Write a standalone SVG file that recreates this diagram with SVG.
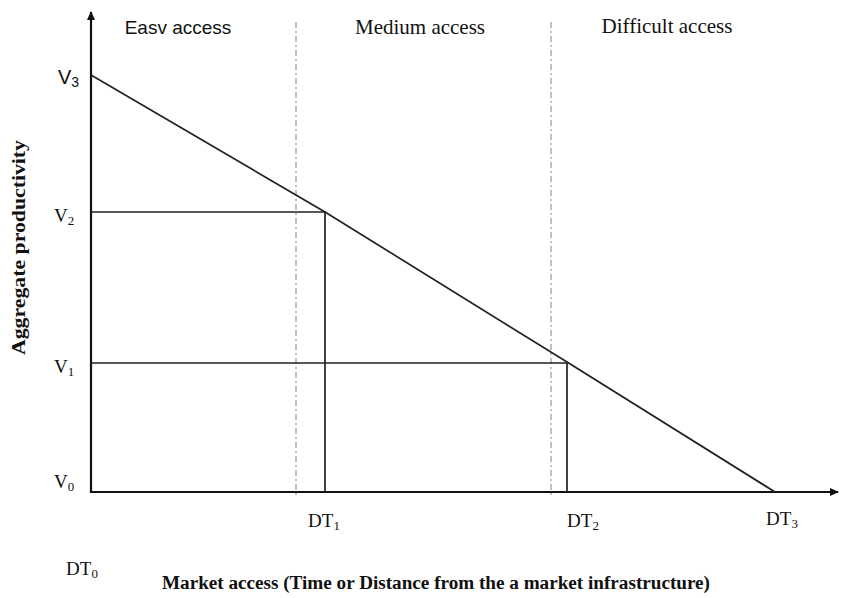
<svg xmlns="http://www.w3.org/2000/svg" width="842" height="598" viewBox="0 0 842 598">
<style>
.ax{stroke:#111;stroke-width:2.2;fill:none}
.ln{stroke:#222;stroke-width:1.7;fill:none}
.dash{stroke:#aaa;stroke-width:1.5;stroke-dasharray:6,3,2,3;fill:none}
.s{font-family:"Liberation Serif",serif;fill:#111}
.ss{font-family:"Liberation Sans",sans-serif;fill:#111}
</style>
<defs>
<marker id="ah" markerWidth="10" markerHeight="10" refX="8" refY="5" orient="auto" markerUnits="userSpaceOnUse">
<path d="M0,1 L9,5 L0,9 Z" fill="#111"/>
</marker>
</defs>
<rect width="842" height="598" fill="#fff"/>
<g id="connectors">
<line class="ax" x1="91" y1="493" x2="91" y2="12" marker-end="url(#ah)"/>
<line class="ax" x1="91" y1="492" x2="838" y2="492" marker-end="url(#ah)"/>
<line class="dash" x1="296" y1="22" x2="296" y2="496"/>
<line class="dash" x1="551" y1="22" x2="551" y2="496"/>
<polyline class="ln" points="91,75 325,212 567,362 775,492"/>
<polyline class="ln" points="91,212 325,212 325,492"/>
<polyline class="ln" points="91,363 567,363 567,492"/>
</g>
<g id="regions">
<text class="ss" x="178" y="34" font-size="19" text-anchor="middle">Easv access</text>
<text class="s" x="420" y="34" font-size="21" text-anchor="middle">Medium access</text>
<text class="s" x="667" y="33" font-size="21" text-anchor="middle">Difficult access</text>
</g>
<g id="v-labels">
<text class="ss" x="58" y="84" font-size="20">V<tspan font-size="14" dy="3">3</tspan></text>
<text class="s" x="54" y="222" font-size="19">V<tspan font-size="13" dy="3">2</tspan></text>
<text class="s" x="54" y="373" font-size="19">V<tspan font-size="13" dy="3">1</tspan></text>
<text class="s" x="54" y="488" font-size="19">V<tspan font-size="13" dy="3">0</tspan></text>
</g>
<g id="dt-labels">
<text class="s" x="324" y="527" font-size="19" text-anchor="middle">DT<tspan font-size="13" dy="3">1</tspan></text>
<text class="s" x="583" y="527" font-size="19" text-anchor="middle">DT<tspan font-size="13" dy="3">2</tspan></text>
<text class="s" x="782" y="525" font-size="19" text-anchor="middle">DT<tspan font-size="13" dy="3">3</tspan></text>
<text class="s" x="82" y="575" font-size="19" text-anchor="middle">DT<tspan font-size="13" dy="3">0</tspan></text>
</g>
<g id="axis-titles">
<text class="s" x="162" y="589" font-size="18" font-weight="bold" textLength="548" lengthAdjust="spacingAndGlyphs">Market access (Time or Distance from the a market infrastructure)</text>
<text class="s" x="0" y="0" font-size="18" font-weight="bold" textLength="215" lengthAdjust="spacingAndGlyphs" transform="translate(25,355) rotate(-90)">Aggregate productivity</text>
</g>
</svg>
